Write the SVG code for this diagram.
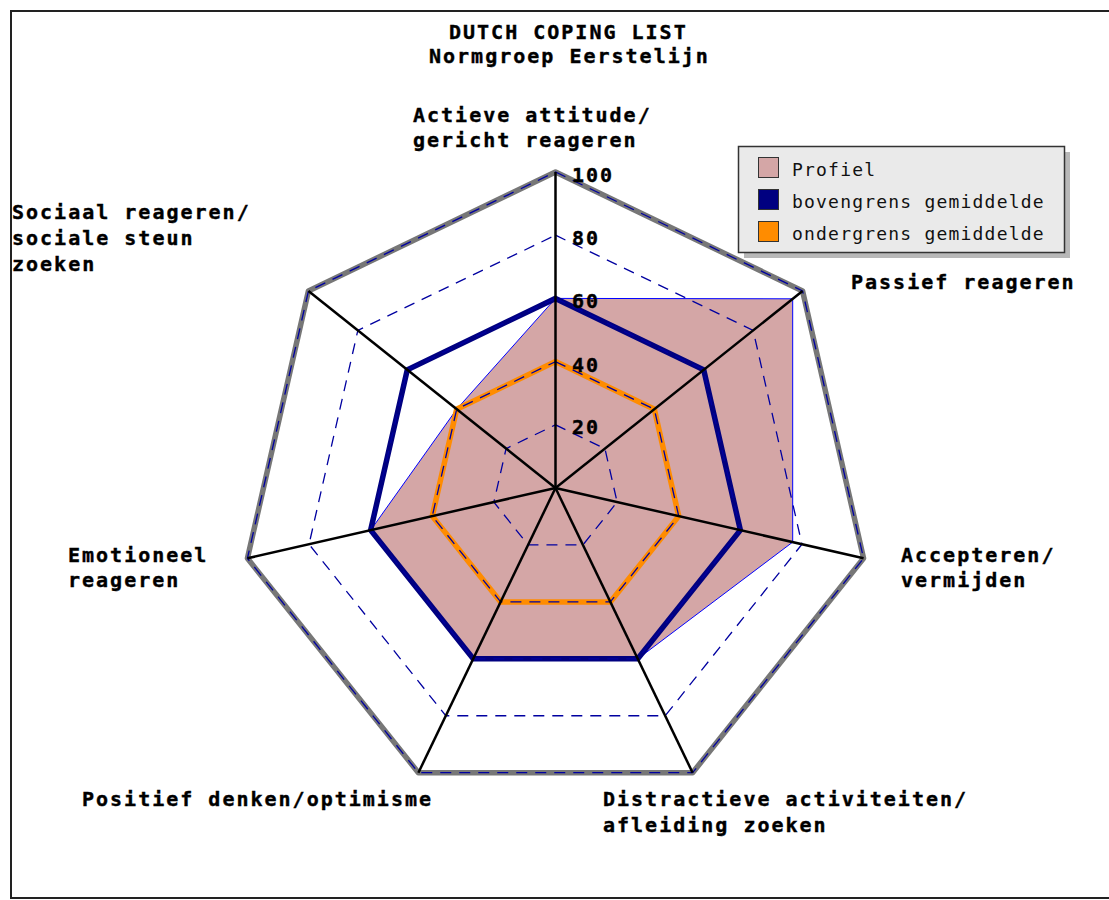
<svg xmlns="http://www.w3.org/2000/svg" width="1109" height="900" viewBox="0 0 1109 900">
<style>
.lbl{font-family:"DejaVu Sans Mono","Liberation Mono",monospace;font-weight:bold;font-size:20px;letter-spacing:2px;fill:#000;stroke:#000;stroke-width:0.4}
.leg{font-family:"DejaVu Sans Mono","Liberation Mono",monospace;font-size:18px;letter-spacing:1.2px;fill:#111}
.grid{fill:none;stroke:#0000a0;stroke-width:1.3;stroke-dasharray:11 8}
.axis{stroke:#000;stroke-width:2.5}
</style>
<rect x="0" y="0" width="1109" height="900" fill="#fff"/>
<rect id="frame" x="11" y="11" width="1120" height="887" fill="none" stroke="#222" stroke-width="2"/>

<g id="title">
<text class="lbl" x="449" y="39">DUTCH COPING LIST</text>
<text class="lbl" x="429" y="63">Normgroep Eerstelijn</text>
</g>

<g id="outer">
<polygon points="555.5,172 802.56,290.98 863.58,558.32 692.61,772.71 418.39,772.71 247.42,558.32 308.44,290.98" fill="none" stroke="#777" stroke-width="5.5" stroke-linejoin="round"/>
</g>

<g id="profiel">
<polygon points="555.5,298.4 792.7,298.8 792.7,542.1 637.76,658.82 473.24,658.82 370.65,530.19 456.68,409.19" fill="#d4a6a6" stroke="#0000ff" stroke-width="1"/>
</g>

<g id="bovengrens">
<polygon points="555.5,298.4 703.74,369.79 740.35,530.19 637.76,658.82 473.24,658.82 370.65,530.19 407.26,369.79" fill="none" stroke="#000080" stroke-width="5.5"/>
</g>

<g id="ondergrens">
<polygon points="555.5,361.6 654.32,409.19 678.73,516.13 610.34,601.88 500.66,601.88 432.27,516.13 456.68,409.19" fill="none" stroke="#ff8c00" stroke-width="5.5"/>
</g>

<g id="grid">
<polygon class="grid" points="555.5,424.8 604.91,448.6 617.12,502.06 582.92,544.94 528.08,544.94 493.88,502.06 506.09,448.6"/>
<polygon class="grid" points="555.5,361.6 654.32,409.19 678.73,516.13 610.34,601.88 500.66,601.88 432.27,516.13 456.68,409.19"/>
<polygon class="grid" points="555.5,298.4 703.74,369.79 740.35,530.19 637.76,658.82 473.24,658.82 370.65,530.19 407.26,369.79"/>
<polygon class="grid" points="555.5,235.2 753.15,330.38 801.96,544.25 665.19,715.76 445.81,715.76 309.04,544.25 357.85,330.38"/>
<polygon class="grid" points="555.5,172 802.56,290.98 863.58,558.32 692.61,772.71 418.39,772.71 247.42,558.32 308.44,290.98"/>
</g>

<g id="axes">
<line class="axis" x1="555.5" y1="488" x2="555.5" y2="172"/>
<line class="axis" x1="555.5" y1="488" x2="802.56" y2="290.98"/>
<line class="axis" x1="555.5" y1="488" x2="863.58" y2="558.32"/>
<line class="axis" x1="555.5" y1="488" x2="692.61" y2="772.71"/>
<line class="axis" x1="555.5" y1="488" x2="418.39" y2="772.71"/>
<line class="axis" x1="555.5" y1="488" x2="247.42" y2="558.32"/>
<line class="axis" x1="555.5" y1="488" x2="308.44" y2="290.98"/>
</g>

<g id="ticks">
<text class="lbl" x="572" y="182">100</text>
<text class="lbl" x="572" y="245">80</text>
<text class="lbl" x="572" y="308">60</text>
<text class="lbl" x="572" y="372">40</text>
<text class="lbl" x="572" y="434">20</text>
</g>

<g id="labels">
<g id="lbl-actieve"><text class="lbl" x="413" y="122">Actieve attitude/</text><text class="lbl" x="413" y="147">gericht reageren</text></g>
<g id="lbl-passief"><text class="lbl" x="851" y="289">Passief reageren</text></g>
<g id="lbl-accepteren"><text class="lbl" x="901" y="562">Accepteren/</text><text class="lbl" x="901" y="587">vermijden</text></g>
<g id="lbl-distractieve"><text class="lbl" x="603" y="806">Distractieve activiteiten/</text><text class="lbl" x="603" y="832">afleiding zoeken</text></g>
<g id="lbl-positief"><text class="lbl" x="82" y="806">Positief denken/optimisme</text></g>
<g id="lbl-emotioneel"><text class="lbl" x="68" y="562">Emotioneel</text><text class="lbl" x="68" y="587">reageren</text></g>
<g id="lbl-sociaal"><text class="lbl" x="12" y="219">Sociaal reageren/</text><text class="lbl" x="12" y="245">sociale steun</text><text class="lbl" x="12" y="271">zoeken</text></g>
</g>

<g id="legend">
<rect x="744" y="152" width="326" height="106" fill="#b8b8b8"/>
<rect x="738.5" y="146.5" width="326" height="106" fill="#eaeaea" stroke="#333" stroke-width="1.5"/>
<rect x="758.5" y="157.5" width="20" height="20" fill="#d4a6a6" stroke="#333" stroke-width="1"/>
<rect x="758.5" y="189.5" width="20" height="20" fill="#000080" stroke="#333" stroke-width="1"/>
<rect x="758.5" y="221.5" width="20" height="20" fill="#ff8c00" stroke="#333" stroke-width="1"/>
<text class="leg" x="792" y="176">Profiel</text>
<text class="leg" x="792" y="208">bovengrens gemiddelde</text>
<text class="leg" x="792" y="240">ondergrens gemiddelde</text>
</g>
</svg>
